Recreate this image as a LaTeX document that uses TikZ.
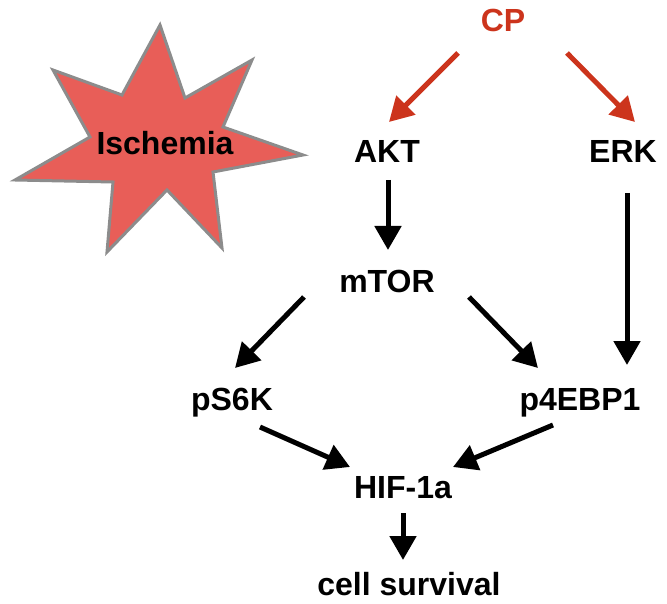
\documentclass[tikz,border=0pt]{standalone}
\usepackage{fontspec}
\setmainfont{Liberation Sans}
\usetikzlibrary{arrows.meta}
\definecolor{cpred}{RGB}{204,52,28}
\definecolor{starfill}{RGB}{232,94,88}
\definecolor{stargray}{RGB}{140,140,140}
\tikzset{
  lbl/.style={anchor=base, inner sep=0pt, font=\fontsize{32}{32}\selectfont\bfseries},
  arr/.style={line width=5pt, -{Triangle[length=24pt,width=26pt]}},
  redarr/.style={arr, draw=cpred},
}
\begin{document}
\begin{tikzpicture}[x=1pt,y=-1pt]
\useasboundingbox (0,0) rectangle (667,604);
% star
\draw[fill=starfill, draw=stargray, line width=3pt, line join=miter]
  (160,25) -- (185,98) -- (252,60) -- (223,127) -- (303,155) -- (213,172)
  -- (222,248) -- (167,190) -- (107,252) -- (113,182) -- (15,180)
  -- (90,137) -- (53,70) -- (122,95) -- cycle;
\node[lbl] (isch) at (165,155) {Ischemia};
% nodes
\node[lbl, text=cpred] (cp) at (503,32) {CP};
\node[lbl] (akt) at (387,163) {AKT};
\node[lbl] (erk) at (623,163) {ERK};
\node[lbl] (mtor) at (387,292) {mTOR};
\node[lbl] (ps6k) at (232,410) {pS6K};
\node[lbl] (p4e) at (580,410) {p4EBP1};
\node[lbl] (hif) at (403,498) {HIF-1a};
\node[lbl] (cell) at (409,595) {cell survival};
% arrows
\draw[redarr] ([shift={(-45,21)}]cp.base) -- ([shift={(2,-41)}]akt.base);
\draw[redarr] ([shift={(64,21)}]cp.base) -- ([shift={(12,-41)}]erk.base);
\draw[arr] ([shift={(1,17)}]akt.base) -- ([shift={(1,-42)}]mtor.base);
\draw[arr] ([shift={(4,30)}]erk.base) -- ([shift={(47,-45)}]p4e.base);
\draw[arr] ([shift={(-83,5)}]mtor.base) -- ([shift={(3,-42)}]ps6k.base);
\draw[arr] ([shift={(82,5)}]mtor.base) -- ([shift={(-42,-42)}]p4e.base);
\draw[arr] ([shift={(28,17)}]ps6k.base) -- ([shift={(-53,-31)}]hif.base);
\draw[arr] ([shift={(-27,15)}]p4e.base) -- ([shift={(50,-31)}]hif.base);
\draw[arr] ([shift={(0,15)}]hif.base) -- ([shift={(-6,-35)}]cell.base);
\end{tikzpicture}
\end{document}
